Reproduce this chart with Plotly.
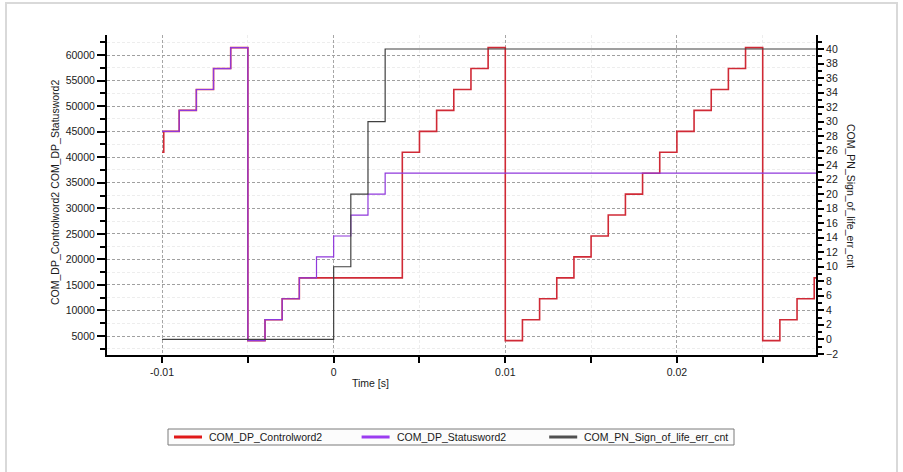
import plotly.graph_objects as go

# Time axis [s]
x_tickvals = [-0.01, 0.0, 0.01, 0.02]
x_ticktext = ["-0.01", "0", "0.01", "0.02"]

# COM_DP_Controlword2 (left axis)
ctrl_time = [-0.01, -0.0099, -0.009, -0.008, -0.007, -0.006, -0.005, -0.004, -0.003, -0.002,
             0.004, 0.005, 0.006, 0.007, 0.008, 0.009, 0.010, 0.011, 0.012, 0.013,
             0.014, 0.015, 0.016, 0.017, 0.018, 0.019, 0.020, 0.021, 0.022, 0.023,
             0.024, 0.025, 0.026, 0.027, 0.028, 0.0282]
ctrl_val = [40960, 45056, 49152, 53248, 57344, 61440, 4096, 8192, 12288, 16384,
            40960, 45056, 49152, 53248, 57344, 61440, 4096, 8192, 12288, 16384,
            20480, 24576, 28672, 32768, 36864, 40960, 45056, 49152, 53248, 57344,
            61440, 4096, 8192, 12288, 16384, 16384]

# COM_DP_Statusword2 (left axis)
stat_time = [-0.01, -0.009, -0.008, -0.007, -0.006, -0.005, -0.004, -0.003, -0.002, -0.001,
             0.0, 0.001, 0.002, 0.003, 0.0282]
stat_val = [45056, 49152, 53248, 57344, 61440, 4096, 8192, 12288, 16384, 20480,
            24576, 28672, 32768, 36864, 36864]

# COM_PN_Sign_of_life_err_cnt (right axis)
sol_time = [-0.01, 0.0, 0.001, 0.002, 0.003, 0.0282]
sol_val = [0, 10, 20, 30, 40, 40]

names = ["COM_DP_Controlword2", "COM_DP_Statusword2", "COM_PN_Sign_of_life_err_cnt"]
colors = ["#d02a36", "#9038dc", "#404040"]
legend_colors = ["#e01818", "#9b3cf0", "#505050"]

FONT = "Liberation Sans, Arial, sans-serif"

# plot area in pixels, used to place the hand-drawn legend
L, R, T, B = 107, 816, 35, 355
def px(x):
    return (x - L) / (R - L)
def py(y):
    return (B - y) / (B - T)

fig = go.Figure()
fig.add_trace(go.Scatter(x=ctrl_time, y=ctrl_val, mode="lines", line_shape="hv", name=names[0],
                         line=dict(color=colors[0], width=1.6), yaxis="y"))
fig.add_trace(go.Scatter(x=stat_time, y=stat_val, mode="lines", line_shape="hv", name=names[1],
                         line=dict(color=colors[1], width=1.2), yaxis="y"))
fig.add_trace(go.Scatter(x=sol_time, y=sol_val, mode="lines", line_shape="hv", name=names[2],
                         line=dict(color=colors[2], width=1.2), yaxis="y2"))

annotations = [
    dict(text="COM_DP_Controlword2 COM_DP_Statusword2", textangle=-90,
         xref="paper", yref="paper", x=px(55), y=py(193), showarrow=False,
         xanchor="center", yanchor="middle"),
    dict(text="COM_PN_Sign_of_life_err_cnt", textangle=90,
         xref="paper", yref="paper", x=px(851), y=py(196), showarrow=False,
         xanchor="center", yanchor="middle"),
    dict(text="Time [s]", xref="paper", yref="paper", x=px(370), y=py(383),
         showarrow=False, xanchor="center", yanchor="middle"),
]
shapes = [
    # outer panel frame
    dict(type="rect", xref="paper", yref="paper", x0=px(6), x1=px(897),
         y0=py(520), y1=py(3), line=dict(color="#d9d9d9", width=2), layer="below"),
    # legend box
    dict(type="rect", xref="paper", yref="paper", x0=px(168), x1=px(734),
         y0=py(445), y1=py(429), line=dict(color="#7a7a7a", width=1),
         fillcolor="#fcfcfc", layer="below"),
]
leg_y = py(437)
for i, (n, c) in enumerate(zip(names, legend_colors)):
    x0 = 174 + i * 187.6
    shapes.append(dict(type="line", xref="paper", yref="paper", x0=px(x0), x1=px(x0 + 28),
                       y0=leg_y, y1=leg_y, line=dict(color=c, width=3)))
    annotations.append(dict(text=n, xref="paper", yref="paper", x=px(x0 + 33), y=leg_y,
                            showarrow=False, xanchor="left", yanchor="middle"))

fig.update_layout(
    width=903, height=472,
    margin=dict(l=L, r=903 - R, t=T, b=472 - B),
    paper_bgcolor="white", plot_bgcolor="white",
    font=dict(family=FONT, size=10.5, color="#1a1a1a"),
    showlegend=False,
    xaxis=dict(
        range=[-0.013207, 0.028105], tickvals=x_tickvals, ticktext=x_ticktext,
        ticks="outside", ticklen=6, tickwidth=1.5, tickcolor="black",
        showline=True, linecolor="black", linewidth=2, zeroline=False,
        showgrid=True, gridcolor="#a6a6a6", griddash="3px,2px", gridwidth=1,
        minor=dict(dtick=0.005, tick0=0, ticks="outside", ticklen=6, tickwidth=1.5,
                   tickcolor="black", showgrid=True, gridcolor="#ededed"),
    ),
    yaxis=dict(
        range=[1281, 63915], tick0=0, dtick=5000, tickformat="d",
        ticks="outside", ticklen=8, tickwidth=1.5, tickcolor="black",
        showline=True, linecolor="black", linewidth=2, zeroline=False,
        showgrid=True, gridcolor="#a0a0a0", griddash="3px,2px", gridwidth=1,
        minor=dict(dtick=2500, tick0=0, ticks="outside", ticklen=5, tickwidth=1.5,
                   tickcolor="black", showgrid=True, gridcolor="#ededed"),
    ),
    yaxis2=dict(
        overlaying="y", side="right", range=[-2.16, 41.93], tick0=0, dtick=2,
        ticks="outside", ticklen=6, tickwidth=1.5, tickcolor="black",
        showline=True, linecolor="black", linewidth=2, zeroline=False, showgrid=False,
        minor=dict(dtick=1, tick0=0, ticks="outside", ticklen=4, tickwidth=1.5,
                   tickcolor="black"),
    ),
    annotations=annotations,
    shapes=shapes,
)

# drop the browser's default body margin so the figure sits at the window origin
fig.write_html("out.html", config={"displayModeBar": False},
               post_script="document.body.style.margin='0px';")
